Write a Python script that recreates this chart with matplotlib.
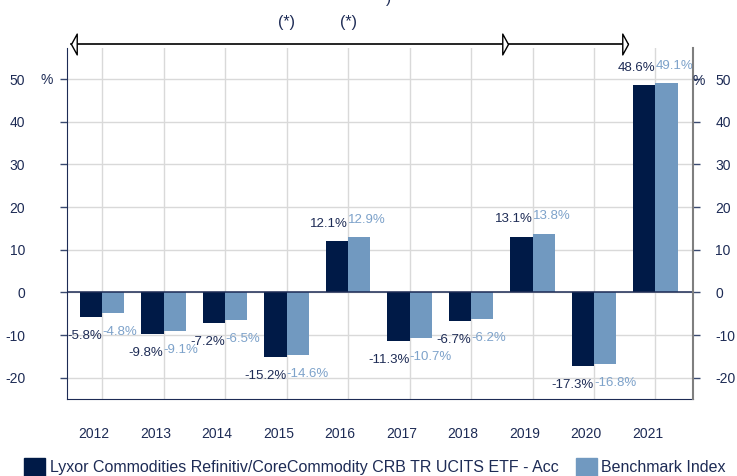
import numpy as np
import matplotlib
matplotlib.use("Agg")
import matplotlib.pyplot as plt
from matplotlib.path import Path
from matplotlib.patches import Patch
from matplotlib.transforms import blended_transform_factory, offset_copy

plt.rcParams['font.family'] = ['Liberation Sans', 'DejaVu Sans']

years = ["2012", "2013", "2014", "2015", "2016", "2017", "2018", "2019", "2020", "2021"]
etf = [-5.8, -9.8, -7.2, -15.2, 12.1, -11.3, -6.7, 13.1, -17.3, 48.6]
bench = [-4.8, -9.1, -6.5, -14.6, 12.9, -10.7, -6.2, 13.8, -16.8, 49.1]
etf_name = "Lyxor Commodities Refinitiv/CoreCommodity CRB TR UCITS ETF - Acc"
bench_name = "Benchmark Index"
yticks = [-20, -10, 0, 10, 20, 30, 40, 50]
star_years = [3, 4]               # (*) marks above 2015 and 2016
period_marks = [-0.5, 6.6, 8.55]  # arrow: start, change point, end

DARK = "#001A47"
LIGHT = "#7199C0"
LABEL_LIGHT = "#7DA2CA"
NAVY = "#1D2B55"
GRID = "#D9D9D9"

W, H = 737, 476
fig = plt.figure(figsize=(W / 100, H / 100), dpi=100)
left, right, top, bottom = 67, 693, 48, 399
ax = fig.add_axes([left / W, 1 - bottom / H, (right - left) / W, (bottom - top) / H])

x = np.arange(len(years))
bw = 0.36
ax.bar(x - bw / 2, etf, bw, color=DARK, zorder=3)
ax.bar(x + bw / 2, bench, bw, color=LIGHT, zorder=3)

ax.set_xlim(-0.57, 9.61)
ax.set_ylim(-25, 57.3)

# grid
for xi in x:
    ax.axvline(xi, color=GRID, lw=1, zorder=1)
for yv in yticks:
    ax.axhline(yv, color=GRID, lw=1, zorder=1)
ax.axhline(0, color=NAVY, lw=1.1, zorder=4)

# x ticks
ax.set_xticks(x - 0.13)
ax.set_xticklabels(years, fontsize=10, color=NAVY)
ax.tick_params(axis='x', length=0, pad=20)

# left y
ax.set_yticks(yticks)
ax.set_yticklabels([str(v) for v in yticks], fontsize=10, color=NAVY)
ax.tick_params(axis='y', length=5, width=1, color="#3A4A70", pad=25)

# right y
ax2 = ax.twinx()
ax2.set_ylim(ax.get_ylim())
ax2.set_yticks(yticks)
ax2.set_yticklabels([str(v) for v in yticks], fontsize=10, color=NAVY)
ax2.tick_params(axis='y', length=5, width=1, color="#3A4A70", pad=11)

for a in (ax, ax2):
    a.spines['top'].set_visible(False)
ax.spines['left'].set_color(NAVY)
ax.spines['bottom'].set_color(NAVY)
ax.spines['right'].set_visible(False)
ax2.spines['left'].set_visible(False)
ax2.spines['bottom'].set_visible(False)
ax2.spines['right'].set_color("#7F7F7F")
ax2.spines['right'].set_linewidth(1.5)

# % unit labels
fig.text(47 / W, 1 - 80 / H, "%", fontsize=10, color=NAVY, ha='center', va='center')
fig.text(699 / W, 1 - 81 / H, "%", fontsize=10, color=NAVY, ha='center', va='center')

# value labels
def lab(v):
    return f"{v:.1f}%"

for xi, a, b in zip(x, etf, bench):
    for val, col, ha in ((a, NAVY, 'right'), (b, LABEL_LIGHT, 'left')):
        off = 8 if val >= 0 else -9.5
        va = 'bottom' if val >= 0 else 'top'
        tr = offset_copy(ax.transData, fig=fig, x=0, y=off, units='points')
        ax.text(xi, val, lab(val), transform=tr, ha=ha, va=va,
                fontsize=9.5, color=col, zorder=5)

# arrow line on top
bt = blended_transform_factory(ax.transData, ax.transAxes)
ya = 1 + 4 / (bottom - top)
ax.plot([period_marks[0], period_marks[-1]], [ya, ya], color='black', lw=1.2,
        transform=bt, clip_on=False, zorder=6)
head_r = Path([(-0.55, -1.0), (0, 0), (-0.55, 1.0), (-0.55, -1.0)],
              [Path.MOVETO, Path.LINETO, Path.LINETO, Path.CLOSEPOLY])
head_l = Path([(0.55, -1.0), (0, 0), (0.55, 1.0), (0.55, -1.0)],
              [Path.MOVETO, Path.LINETO, Path.LINETO, Path.CLOSEPOLY])
ax.plot([period_marks[0]], [ya], marker=head_l, ms=15, mfc='white', mec='black', mew=1,
        transform=bt, clip_on=False, zorder=7, ls='none')
ax.plot(period_marks[1:], [ya, ya], marker=head_r, ms=15, mfc='white', mec='black', mew=1,
        transform=bt, clip_on=False, zorder=7, ls='none')

ys = 1 + 26 / (bottom - top)
for s in star_years:
    ax.text(s, ys, "(*)", transform=bt, ha='center', va='center', fontsize=11.5, color=NAVY)

fig.text(388 / W, 1 + 1 / H, ")", fontsize=11, color=NAVY, ha='center', va='center')

# legend
handles = [Patch(color=DARK, label=etf_name), Patch(color=LIGHT, label=bench_name)]
leg = fig.legend(handles=handles, loc='center left', bbox_to_anchor=(24 / W, 1 - 467 / H),
                 ncol=2, frameon=False, fontsize=11.5, handlelength=1.3, handleheight=1.3,
                 handletextpad=0.3, columnspacing=1.1, borderpad=0, borderaxespad=0)
for t in leg.get_texts():
    t.set_color(NAVY)

fig.savefig("out.png", dpi=100)
